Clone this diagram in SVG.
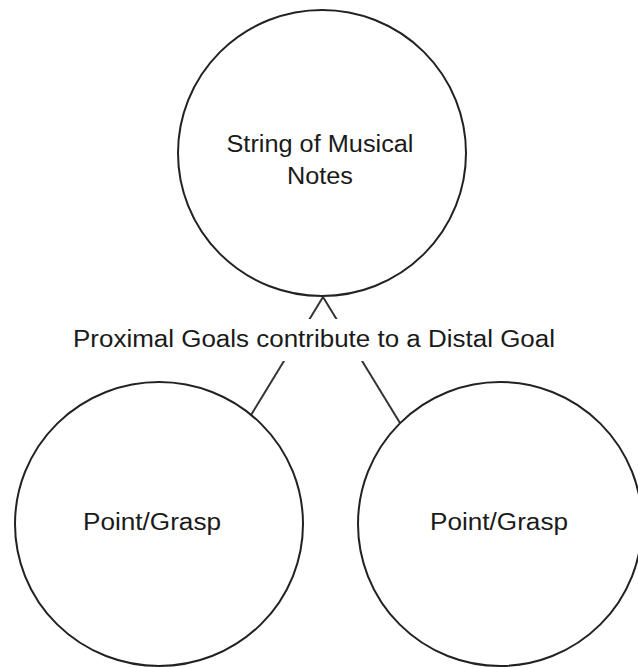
<svg xmlns="http://www.w3.org/2000/svg" width="638" height="667" viewBox="0 0 638 667">
<style>
.node{fill:#ffffff;stroke:#222222;stroke-width:2}
.edge{stroke:#333333;stroke-width:2;fill:none}
.t{font-family:"Liberation Sans",Arial,sans-serif;font-size:23px;fill:#1a1a1a;text-anchor:middle}
</style>
<rect width="638" height="667" fill="#ffffff"/>
<g id="connectors">
<line class="edge" x1="251" y1="415" x2="323" y2="297"/>
<line class="edge" x1="400" y1="423" x2="323" y2="297"/>
<rect x="60" y="319" width="510" height="42" fill="#ffffff"/>
<text class="t" x="314" y="347" textLength="482" lengthAdjust="spacingAndGlyphs">Proximal Goals contribute to a Distal Goal</text>
</g>
<g id="distal">
<ellipse class="node" cx="322" cy="153" rx="144" ry="143"/>
<text class="t" x="320" y="152" textLength="187" lengthAdjust="spacingAndGlyphs">String of Musical</text>
<text class="t" x="320" y="184" textLength="66" lengthAdjust="spacingAndGlyphs">Notes</text>
</g>
<g id="proximal-left">
<ellipse class="node" cx="159" cy="524" rx="144" ry="142"/>
<text class="t" x="152" y="530" textLength="138" lengthAdjust="spacingAndGlyphs">Point/Grasp</text>
</g>
<g id="proximal-right">
<ellipse class="node" cx="500" cy="524" rx="142" ry="142"/>
<text class="t" x="499" y="530" textLength="138" lengthAdjust="spacingAndGlyphs">Point/Grasp</text>
</g>
</svg>
